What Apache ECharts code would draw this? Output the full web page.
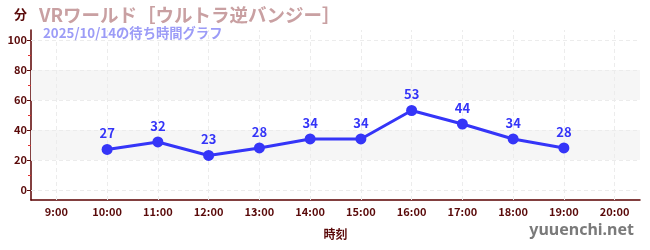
<!DOCTYPE html>
<html><head><meta charset="utf-8">
<script src="https://cdn.jsdelivr.net/npm/echarts@6/dist/echarts.min.js"></script>
<style>html,body{margin:0;padding:0;background:#fff}#c{width:650px;height:250px}</style>
</head><body><div id="c"></div>
<script>
const categories = ['9:00','10:00','11:00','12:00','13:00','14:00','15:00','16:00','17:00','18:00','19:00','20:00'];
const waitTimes = [null,27,32,23,28,34,34,53,44,34,28,null];
const yTicks = [0,20,40,60,80,100];
const yMinorTicks = [10,30,50,70,90];
const bands = [[20,40],[60,80]];
const titleText = 'VRワールド［ウルトラ逆バンジー］';
const subText = '2025/10/14の待ち時間グラフ';

const font = '"Noto Sans CJK JP","Noto Sans",sans-serif';
const dark = '#5a0a0a';
const chart = echarts.init(document.getElementById('c'));
chart.setOption({
  animation:false,
  textStyle:{fontFamily:font},
  title:[
    {text:titleText,left:34,top:1,textStyle:{fontSize:18.5,fontWeight:'bold',color:'#c9a0a2',fontFamily:font}},
    {text:subText,left:38,top:21,textStyle:{fontSize:13.3,fontWeight:'bold',color:'#9c9cf7',fontFamily:font}}
  ],
  graphic:[
    {type:'text',left:14,top:8,style:{text:'分',font:'bold 13px '+font,fill:dark}},
    {type:'text',right:16,top:222,style:{text:'yuuenchi.net',font:'bold 16px "Noto Sans",sans-serif',fill:'#7a7a7a'}}
  ],
  grid:{left:31,right:10,top:30,bottom:50},
  xAxis:{type:'category',data:categories,boundaryGap:true,
    axisLine:{onZero:false,lineStyle:{color:'#5a0000',width:1.5}},
    axisTick:{alignWithLabel:true,inside:true,length:4,lineStyle:{color:'#888',width:2}},
    axisLabel:{color:dark,fontSize:11,fontWeight:'bold',margin:6,interval:0},
    splitLine:{show:false},
    name:'時刻',nameLocation:'middle',nameGap:28,
    nameTextStyle:{color:dark,fontSize:12,fontWeight:'bold'}},
  yAxis:[
    {type:'value',min:-6.7,max:106.7,
      axisLine:{show:true,lineStyle:{color:'#5a0000',width:1.5}},
      axisTick:{show:true,customValues:yTicks,length:4,lineStyle:{color:dark}},
      axisLabel:{customValues:yTicks,color:dark,fontSize:11,fontWeight:'bold',margin:4},
      splitLine:{show:false},splitArea:{show:false}},
    {type:'value',min:-6.7,max:106.7,position:'left',
      axisLine:{show:false,onZero:false},
      axisTick:{show:true,customValues:yMinorTicks,length:3,lineStyle:{color:'#e03030'}},
      axisLabel:{show:false},splitLine:{show:false}}
  ],
  series:[{
    type:'line',data:[],z:1,silent:true,
    markArea:{silent:true,itemStyle:{color:'#f6f6f6'},
      data:bands.map(b=>[{yAxis:b[0]},{yAxis:b[1]}])},
    markLine:{silent:true,symbol:'none',label:{show:false},animation:false,
      lineStyle:{color:'#ececec',type:[4,3],width:1},
      data:[].concat(yTicks.map(v=>({yAxis:v})),categories.map(c=>({xAxis:c})))}
  },{
    type:'line',data:waitTimes,connectNulls:false,z:5,
    lineStyle:{color:'#3535f8',width:3},
    itemStyle:{color:'#3535f8'},
    symbol:'circle',symbolSize:11,
    label:{show:true,position:'top',color:'#3535f8',fontSize:13,fontWeight:'bold',distance:4}
  }]
});
</script></body></html>
